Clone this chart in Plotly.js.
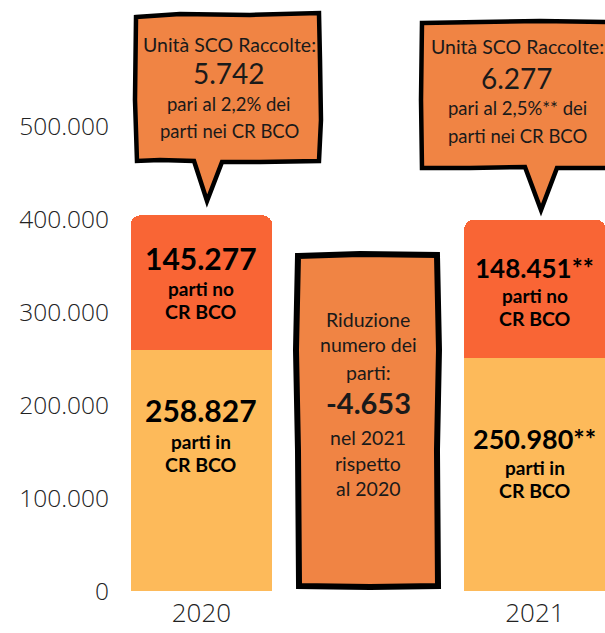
<html>
<head>
    <script src="https://cdn.plot.ly/plotly-3.0.1.min.js"></script>
    <style>
        body { margin: 0; padding: 0; background: #fff; }
        #chart { width: 605px; height: 633px; }
    </style>
</head>
<body>
    <div id="chart"></div>
    <script>
        // dati
        const anni = ['2020', '2021'];
        const partiInCR = [258827, 250980];
        const partiNoCR = [145277, 148451];
        const etichetteIn = ['258.827', '250.980**'];
        const etichetteNo = ['145.277', '148.451**'];
        const unitaSCO = ['5.742', '6.277'];
        const percentualiSCO = ['2,2%', '2,5%**'];
        const riduzione = '-4.653';

        const categorie = [anni[0], ' ', anni[1]];

        // geometria del plot in pixel (per i fumetti)
        const L = 118, R = 605, T = 33, B = 591;
        const W = R - L, H = B - T;
        const px = x => (x - L) / W;
        const py = y => (B - y) / H;
        const path = pts => 'M ' + pts.map(p => px(p[0]).toFixed(4) + ',' + py(p[1]).toFixed(4)).join(' L ') + ' Z';

        const traceIn = {
            x: anni,
            y: partiInCR,
            type: 'bar',
            marker: { color: '#FDBA5A', line: { width: 0 } },
            hoverinfo: 'skip'
        };
        const traceNo = {
            x: anni,
            y: partiNoCR,
            type: 'bar',
            marker: { color: '#F96535', line: { width: 0 } },
            hoverinfo: 'skip'
        };

        const txt = (text, x, y, size, bold, extra) => Object.assign({
            text: text, x: x, y: y, xref: 'x', yref: 'paper',
            showarrow: false, xanchor: 'center', yanchor: 'middle',
            font: { family: 'Lato, sans-serif', size: size, color: '#1a1a1a', weight: bold ? 'bold' : 'normal' }
        }, extra || {});

        const annotations = [];

        // etichette delle barre (x = indice della categoria)
        const shiftNo = [[25, -6, -29], [21, -7, -30]];
        const shiftIn = [[-60, -91, -114], [-81, -110, -133]];
        const sizeNumNo = [30, 26];
        const sizeNumIn = [30, 27];
        anni.forEach((a, i) => {
            const xi = categorie.indexOf(a);
            const centroNo = partiInCR[i] + partiNoCR[i] / 2;
            const bold = { family: 'Lato, sans-serif', color: '#000', weight: 'bold' };
            [[etichetteNo[i], sizeNumNo[i]], ['parti no', 19], ['CR BCO', 19.5]].forEach((r, k) => {
                annotations.push({ text: r[0], x: xi, y: centroNo, xref: 'x', yref: 'y', yshift: shiftNo[i][k],
                    showarrow: false, font: Object.assign({ size: r[1] }, bold) });
            });
            [[etichetteIn[i], sizeNumIn[i]], ['parti in', 19], ['CR BCO', 19.5]].forEach((r, k) => {
                annotations.push({ text: r[0], x: xi, y: partiInCR[i], xref: 'x', yref: 'y', yshift: shiftIn[i][k],
                    showarrow: false, font: Object.assign({ size: r[1] }, bold) });
            });
        });

        // fumetti
        const fumX = [px(229), px(517)];
        const fumY = [[44, 73, 104, 131], [46, 78, 108, 136]];
        anni.forEach((a, i) => {
            const righe = [['Unità SCO Raccolte:', 19.5], [unitaSCO[i], 28], ['pari al ' + percentualiSCO[i] + ' dei', 18.5], ['parti nei CR BCO', 18.5]];
            righe.forEach((r, k) => {
                annotations.push(txt(r[0], fumX[i], py(fumY[i][k]), r[1], false, { xref: 'paper' }));
            });
        });

        // box centrale
        const righeMid = [['Riduzione', 19.5, 319], ['numero dei', 19.5, 345], ['parti:', 19.5, 372], [riduzione, 29, 402, true],
            ['nel 2021', 19.5, 437], ['rispetto', 19.5, 463], ['al 2020', 19.5, 489]];
        righeMid.forEach(r => annotations.push(txt(r[0], 1, py(r[2]), r[1], r[3])));

        const bordo = { color: '#000', width: 4.5 };
        const shapes = [
            {
                type: 'path', xref: 'paper', yref: 'paper', fillcolor: '#F08444', line: bordo, layer: 'above',
                path: path([[136,17],[180,14],[250,15],[319,13],[320,60],[321,120],[319,161],[260,162],[222,162],
                    [207,201],[194,161],[160,160],[137,161],[135,100]])
            },
            {
                type: 'path', xref: 'paper', yref: 'paper', fillcolor: '#F08444', line: bordo, layer: 'above',
                path: path([[422,23],[480,22],[540,21],[614,22],[614,168],[557,168],[541,210],[525,167],[470,168],
                    [422,168],[421,100]])
            },
            {
                type: 'path', xref: 'paper', yref: 'paper', fillcolor: '#F08444', line: { color: '#000', width: 6 }, layer: 'above',
                path: path([[298,256],[360,254],[437,255],[439,350],[437,450],[438,586],[370,587],[299,586],[298,450],[296,350]])
            }
        ];

        const layout = {
            width: 605,
            height: 633,
            margin: { l: L, r: 0, t: T, b: 633 - B, pad: 0 },
            barmode: 'stack',
            bargap: 0.15,
            barcornerradius: 10,
            showlegend: false,
            separators: ',.',
            plot_bgcolor: '#fff',
            paper_bgcolor: '#fff',
            xaxis: {
                type: 'category',
                categoryorder: 'array',
                categoryarray: categorie,
                range: [-0.5, 2.42],
                showgrid: false, zeroline: false, showline: false,
                tickfont: { family: 'Open Sans, sans-serif', size: 26, color: '#222', weight: 300 },
                ticklabelstandoff: 4
            },
            yaxis: {
                range: [0, 600000],
                tickvals: [0, 100000, 200000, 300000, 400000, 500000],
                tickformat: ',d',
                showgrid: false, zeroline: false, showline: false,
                tickfont: { family: 'Open Sans, sans-serif', size: 24.5, color: '#222', weight: 300 },
                ticklabelstandoff: 8
            },
            shapes: shapes,
            annotations: annotations
        };

        Plotly.newPlot('chart', [traceIn, traceNo], layout, { staticPlot: true });
    </script>
</body>
</html>
